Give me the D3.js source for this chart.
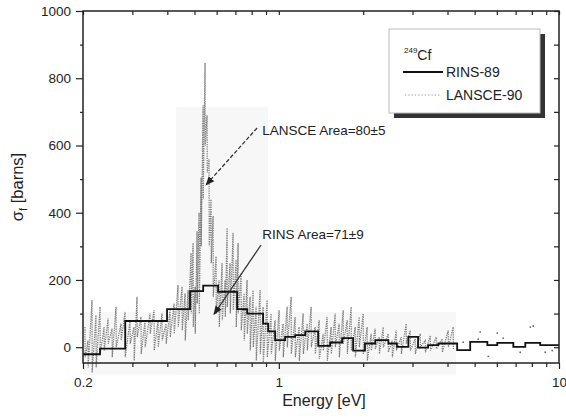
<!DOCTYPE html>
<html><head><meta charset="utf-8">
<script src="https://cdn.jsdelivr.net/npm/d3@7"></script>
<style>body{margin:0;background:#fff}svg{display:block;font-family:"Liberation Sans",Arial,sans-serif}</style>
</head><body><svg id="c" width="566" height="420"></svg>
<script>
// RINS-89 histogram: bin edges (eV) and values (barns)
const rinsEdges = [0.2,0.23,0.283,0.399,0.482,0.537,0.607,0.71,0.771,0.879,0.916,0.97,1.053,1.144,1.242,1.382,1.524,1.682,1.842,2.03,2.21,2.46,2.64,2.90,3.14,3.41,3.71,4.33,4.82,5.55,6.02,6.87,7.58,8.57,10];
const rinsValues = [-21,-4,78,113,167,183,165,113,100,70,47,21,31,36,47,4,14,27,-10,11,21,11,1,31,-1,6,11,-9,16,6,13,1,13,6];

// LANSCE-90 high-resolution data: energies with local max / min excursions
const lansceE = [0.2033,0.2084,0.2154,0.2225,0.2301,0.2378,0.2457,0.2539,0.2624,0.2733,0.2825,0.2944,0.3042,0.3118,0.3222,0.3330,0.3470,0.3586,0.3706,0.3829,0.3957,0.4090,0.4227,0.4368,0.4514,0.4628,0.4743,0.4861,0.4942,0.5024,0.5107,0.5192,0.5277,0.5365,0.5454,0.5544,0.5636,0.5729,0.5825,0.5971,0.6120,0.6273,0.6430,0.6536,0.6699,0.6867,0.7038,0.7155,0.7333,0.7517,0.7704,0.7897,0.8094,0.8296,0.8574,0.8788,0.9082,0.9385,0.9699,1.0024,1.0359,1.0706,1.1064,1.1434,1.1815,1.2211,1.2620,1.3041,1.3477,1.3927,1.4394,1.4876,1.5372,1.5886,1.6417,1.6967,1.7535,1.8120,1.8727,1.9352,2.0,2.067,2.136,2.207,2.282,2.358,2.457,2.539,2.624,2.734,2.848,2.944,3.067,3.196,3.330,3.471,3.646,3.829,4.023,4.192];
const lansceTop = [60,20,140,95,120,60,85,55,120,70,105,80,60,150,90,80,100,110,80,100,70,110,130,185,180,160,170,280,310,180,345,400,505,720,845,690,560,440,390,270,200,250,200,355,250,340,260,310,220,160,200,150,170,120,170,120,140,100,80,110,70,120,150,90,60,100,70,120,60,80,40,90,60,100,70,110,80,120,60,90,100,60,40,55,30,60,40,20,50,30,70,50,25,40,20,35,30,25,50,60];
const lansceBot = [-30,-60,-75,-60,-20,-10,10,-30,0,20,-30,10,-40,30,-20,0,40,-10,0,20,10,30,40,60,50,20,80,100,60,40,130,100,300,440,600,520,300,250,150,100,60,80,90,120,100,110,60,100,50,20,40,-10,0,-40,-20,-45,-30,-20,-40,-10,-30,0,-20,-30,-40,-20,-10,0,-20,-35,-10,-40,-20,0,-30,10,-20,-10,-30,0,-20,-40,-10,-5,-20,0,-15,-30,-10,-20,10,-10,-20,0,-15,-10,-5,-15,0,-5];
// sparse LANSCE points above 4.3 eV
const sparseE = [4.55,5.15,5.23,5.59,6.02,6.32,7.27,7.90,8.09,8.93,9.46];
const sparseV = [15,24,45,-27,42,27,-15,60,63,-15,-10];

const xMajor = [0.2,1,10];
const xMinor = [0.3,0.4,0.5,0.6,0.7,0.8,0.9,2,3,4,5,6,7,8,9];
const yMajor = [0,200,400,600,800,1000];
const yMinor = [100,300,500,700,900];
const yAll = [0,100,200,300,400,500,600,700,800,900,1000];

const legendTitle = "Cf", legendIso = "249";
const seriesNames = ["RINS-89","LANSCE-90"];
const notes = [
  {text:"LANSCE Area=80\u00b15", tx:0.872, ty:646, x0:0.836, y0:652, x1:0.550, y1:483, dash:"4,2"},
  {text:"RINS Area=71\u00b19", tx:0.872, ty:335, x0:0.864, y0:304, x1:0.587, y1:98, dash:null}
];
// faint scan shading in data units
const shades = [
  {e0:0.2, e1:4.3, v0:-82, v1:105},
  {e0:0.43, e1:0.915, v0:-82, v1:715}
];

const svg = d3.select("#c");
const L=83,R=559,T=11,B=363;
const x = d3.scaleLog().domain([0.2,10]).range([L,R]);
const y = d3.scaleLinear().domain([-47,1000]).range([B,T]);

// shading
svg.selectAll("rect.sh").data(shades).join("rect")
  .attr("x",d=>x(d.e0)).attr("width",d=>x(d.e1)-x(d.e0))
  .attr("y",d=>y(d.v1)).attr("height",d=>y(d.v0)-y(d.v1))
  .attr("fill","#f7f7f7");

// LANSCE path
const lpts = [];
lansceE.forEach((e,i)=>{ lpts.push([e,lansceTop[i]]); lpts.push([e*1.0015,lansceBot[i]]); });
svg.append("path").datum(lpts)
  .attr("d", d3.line().x(d=>x(d[0])).y(d=>y(d[1])))
  .attr("fill","none").attr("stroke","#7a7a7a").attr("stroke-width",1.2)
  .attr("stroke-dasharray","1.3,1");
svg.selectAll("circle.sp").data(sparseE).join("circle")
  .attr("cx",d=>x(d)).attr("cy",(d,i)=>y(sparseV[i])).attr("r",0.9).attr("fill","#666");

// RINS step
const rpts = rinsEdges.map((e,i)=>[e, rinsValues[Math.min(i,rinsValues.length-1)]]);
svg.append("path").datum(rpts)
  .attr("d", d3.line().curve(d3.curveStepAfter).x(d=>x(d[0])).y(d=>y(d[1])))
  .attr("fill","none").attr("stroke","#111").attr("stroke-width",1.8);

// axes
const fs = "13.5px";
function style(g){ g.select(".domain").remove(); g.selectAll("line").attr("stroke","#222").attr("stroke-width",1.2);
  g.selectAll("text").attr("font-size",fs).attr("fill","#222").attr("font-family","'Liberation Sans',Arial,sans-serif"); }
svg.append("g").attr("transform",`translate(${L},0)`)
  .call(d3.axisLeft(y).tickValues(yMajor).tickSize(7).tickPadding(5).tickFormat(d3.format("d"))).call(style);
svg.append("g").attr("transform",`translate(${L},0)`)
  .call(d3.axisLeft(y).tickValues(yMinor).tickSize(3).tickFormat("")).call(style);
svg.append("g").attr("transform",`translate(${R},0)`)
  .call(d3.axisRight(y).tickValues(yAll).tickSize(-5).tickFormat("")).call(style);
svg.append("g").attr("transform",`translate(0,${B})`)
  .call(d3.axisBottom(x).tickValues(xMajor).tickSize(6).tickPadding(8).tickFormat(d=>String(d))).call(style);
svg.append("g").attr("transform",`translate(0,${B})`)
  .call(d3.axisBottom(x).tickValues(xMinor).tickSize(4).tickFormat("")).call(style);
svg.append("g").attr("transform",`translate(0,${T})`)
  .call(d3.axisTop(x).tickValues(xMajor.concat(xMinor)).tickSize(-4).tickFormat("")).call(style);
// frame
svg.append("rect").attr("x",L).attr("y",T).attr("width",R-L).attr("height",B-T)
  .attr("fill","none").attr("stroke","#222").attr("stroke-width",1.5);

// axis titles
svg.append("text").attr("x",324).attr("y",406).attr("text-anchor","middle")
  .attr("font-size","16px").attr("fill","#222").text("Energy [eV]");
const yt = svg.append("text").attr("transform","translate(23,187) rotate(-90)").attr("text-anchor","middle")
  .attr("font-size","16.5px").attr("fill","#222");
yt.append("tspan").text("\u03c3");
yt.append("tspan").attr("font-size","11px").attr("dy",4).text("f");
yt.append("tspan").attr("dy",-4).text(" [barns]");

// annotations
svg.append("defs").append("marker").attr("id","ah").attr("viewBox","0 0 10 10").attr("refX",9).attr("refY",5)
  .attr("markerWidth",7).attr("markerHeight",7).attr("orient","auto")
  .append("path").attr("d","M0,1 L10,5 L0,9 Z").attr("fill","#222");
notes.forEach(n=>{
  svg.append("line").attr("x1",x(n.x0)).attr("y1",y(n.y0)).attr("x2",x(n.x1)).attr("y2",y(n.y1))
    .attr("stroke","#333").attr("stroke-width",1.3).attr("stroke-dasharray",n.dash).attr("marker-end","url(#ah)");
  svg.append("text").attr("x",x(n.tx)).attr("y",y(n.ty)).attr("dy","0.35em")
    .attr("font-size","13.5px").attr("fill","#222").text(n.text);
});

// legend
const lg = svg.append("g");
lg.append("rect").attr("x",394).attr("y",34).attr("width",151).attr("height",84).attr("fill","#333");
lg.append("rect").attr("x",389).attr("y",29).attr("width",151).attr("height",84).attr("fill","#fff")
  .attr("stroke","#bbb").attr("stroke-width",1);
const lt = lg.append("text").attr("x",404).attr("y",60).attr("font-size","14px").attr("fill","#222");
lt.append("tspan").attr("font-size","8px").attr("dy",-7).text(legendIso);
lt.append("tspan").attr("dy",7).text(legendTitle);
lg.append("line").attr("x1",403).attr("x2",443).attr("y1",72).attr("y2",72).attr("stroke","#111").attr("stroke-width",1.8);
lg.append("line").attr("x1",405).attr("x2",441).attr("y1",95).attr("y2",95).attr("stroke","#999").attr("stroke-width",1.2).attr("stroke-dasharray","1.3,2");
lg.selectAll("text.s").data(seriesNames).join("text").attr("x",446).attr("y",(d,i)=>72+i*23).attr("dy","0.35em")
  .attr("font-size","14px").attr("fill","#222").text(d=>d);
</script></body></html>
